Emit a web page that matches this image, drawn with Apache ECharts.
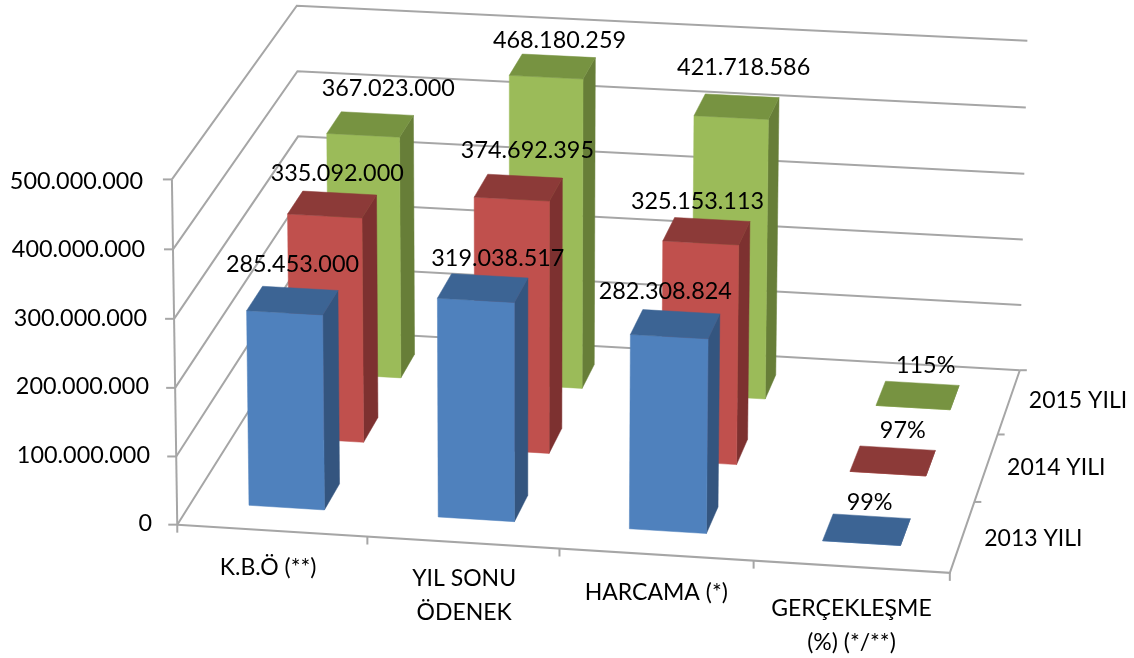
<!DOCTYPE html>
<html><head><meta charset="utf-8">
<style>html,body{margin:0;padding:0;background:#fff}#c{width:1134px;height:658px}</style>
<script src="https://cdn.jsdelivr.net/npm/echarts@6/dist/echarts.min.js"></script>
</head><body><div id="c"></div>
<script>
const categories = ['K.B.Ö (**)', 'YIL SONU\nÖDENEK', 'HARCAMA (*)', 'GERÇEKLEŞME\n(%) (*/**)'];
const years = ['2013 YILI', '2014 YILI', '2015 YILI'];
const values2013 = [285453000, 319038517, 282308824, 0.99];
const values2014 = [335092000, 374692395, 325153113, 0.97];
const values2015 = [367023000, 468180259, 421718586, 1.15];
const yTicks = [0, 100000000, 200000000, 300000000, 400000000, 500000000];

const FONT = 'Lato';
const TEXT = '#000';
const GRIDC = '#A6A6A6';
const G = {left: 178, top: 180, width: 772, height: 342};
const styles = [
  {front: '#4F81BD', side: '#34557F', top: '#3C6494'},
  {front: '#C0504D', side: '#7D3130', top: '#8C3A38'},
  {front: '#9BBB59', side: '#677E38', top: '#779341'}
];
const BAR = {x0: 0.305, x1: 0.705, z0: 0.33, z1: 0.71};
// Label placement relative to the bar's top centre, per series / category
const labelShift = [
  [[0,-36],[15,-30],[-10,-33],[3,-27]],
  [[5,-31],[9,-37],[-9,-30],[10,-30]],
  [[18,-36],[7,-26],[7,-39],[8,-30]]
];
const catLabelShift = [[-4,37],[1,53],[0,38],[0,59]];
const yearLabelShift = [[22,2],[21,0],[20,-1]];
const yLabelGap = [0,2,3,5,7,9];

// Perspective calibration: [cat, height(100M), depth] -> screen
const calib = [
  [0,0,0,178,522],[0,5,0,171,180],[4,0,0,950,575],
  [0,0,3,299,333],[0,5,3,298,4],[4,0,3,1020,367],[4,5,3,1027,42]
];
function solveH() {
  const A = [], b = [];
  calib.forEach(([X,Y,Z,u,v]) => {
    A.push([X,Y,Z,1,0,0,0,0,-u*X,-u*Y,-u*Z]); b.push(u);
    A.push([0,0,0,0,X,Y,Z,1,-v*X,-v*Y,-v*Z]); b.push(v);
  });
  const n = 11, M = [];
  for (let i=0;i<n;i++){ M.push(new Array(n+1).fill(0));
    for (let j=0;j<n;j++) for (let r=0;r<A.length;r++) M[i][j]+=A[r][i]*A[r][j];
    for (let r=0;r<A.length;r++) M[i][n]+=A[r][i]*b[r];
  }
  for (let i=0;i<n;i++){ let p=i;
    for (let r=i+1;r<n;r++) if (Math.abs(M[r][i])>Math.abs(M[p][i])) p=r;
    [M[i],M[p]]=[M[p],M[i]];
    for (let r=0;r<n;r++) if (r!==i){ const f=M[r][i]/M[i][i];
      for (let c=i;c<=n;c++) M[r][c]-=f*M[i][c]; }
  }
  return M.map((row,i)=>row[n]/row[i]);
}
const H = solveH();
function proj(X,Y,Z){
  const w = H[8]*X+H[9]*Y+H[10]*Z+1;
  return [(H[0]*X+H[1]*Y+H[2]*Z+H[3])/w,(H[4]*X+H[5]*Y+H[6]*Z+H[7])/w];
}
// Take a data point through the chart's own axes, then into the perspective.
function world(api,cat,val,dx,z){
  const p = api.coord([cat,val]);
  const bw = api.size([1,0])[0];
  const X = (p[0]-G.left)/bw - 0.5 + dx;
  const Y = (G.top+G.height-p[1])/G.height*5;
  return proj(X,Y,z);
}
const fmtNum = v => String(Math.round(v)).replace(/\B(?=(\d{3})+(?!\d))/g,'.');
const fmtVal = v => v < 10 ? Math.round(v*100)+'%' : fmtNum(v);
const lineEl = (pts,w) => ({type:'polyline',shape:{points:pts},style:{stroke:GRIDC,lineWidth:w||2,fill:null},silent:true});

function barSeries(values,s){
  const st = styles[s];
  return {
    type:'custom', coordinateSystem:'cartesian2d', z:4, silent:true,
    encode:{x:0,y:1},
    data: values.map((v,i)=>[i,v]).reverse(),
    renderItem:(params,api)=>{
      const c=api.value(0), v=api.value(1);
      const za=s+BAR.z0, zb=s+BAR.z1, xa=BAR.x0, xb=BAR.x1;
      const P=(val,dx,z)=>world(api,c,val,dx,z);
      const poly=(pts,fill)=>({type:'polygon',shape:{points:pts},style:{fill,stroke:fill,lineWidth:0.5}});
      return {type:'group',children:[
        poly([P(0,xb,za),P(0,xb,zb),P(v,xb,zb),P(v,xb,za)],st.side),
        poly([P(0,xa,za),P(0,xb,za),P(v,xb,za),P(v,xa,za)],st.front),
        poly([P(v,xa,za),P(v,xb,za),P(v,xb,zb),P(v,xa,zb)],st.top)
      ]};
    }
  };
}
function labelSeries(values,s){
  return {
    type:'custom', coordinateSystem:'cartesian2d', z:10, silent:true,
    encode:{x:0,y:1},
    data: values.map((v,i)=>[i,v]),
    renderItem:(params,api)=>{
      const c=api.value(0), v=api.value(1);
      const p=world(api,c,v,(BAR.x0+BAR.x1)/2,s+(BAR.z0+BAR.z1)/2);
      const d=labelShift[s][c];
      return {type:'text',x:p[0]+d[0],y:p[1]+d[1],
        style:{text:fmtVal(values[c]),font:'23.4px '+FONT,fill:TEXT,align:'center',verticalAlign:'middle'}};
    }
  };
}
const wallSeries = {
  type:'custom', coordinateSystem:'cartesian2d', z:1, silent:true, encode:{x:0,y:1},
  data: yTicks.map(t=>[0,t]),
  renderItem:(params,api)=>{
    const v=api.value(1);
    const a=world(api,0,v,0,0), b=world(api,0,v,0,3), e=world(api,0,v,4,3);
    return {type:'group',children:[lineEl([a,b,e]),lineEl([[a[0]-9,a[1]],a])]};
  }
};
const frameSeries = {
  type:'custom', coordinateSystem:'cartesian2d', z:2, silent:true, encode:{x:0,y:1},
  data:[[0,0]],
  renderItem:(params,api)=>{
    const ch=[];
    ch.push(lineEl([world(api,0,0,0,0),world(api,0,yTicks[5],0,0)]));
    ch.push(lineEl([world(api,0,0,0,0),world(api,0,0,4,0),world(api,0,0,4,3)]));
    for(let i=0;i<=4;i++){const p=world(api,0,0,i,0);ch.push(lineEl([p,[p[0],p[1]+8]]));}
    for(let i=1;i<=3;i++){const p=world(api,0,0,4,i);ch.push(lineEl([p,[p[0]+7,p[1]]]));}
    return {type:'group',children:ch};
  }
};
const textSeries = {
  type:'custom', coordinateSystem:'cartesian2d', z:10, silent:true, encode:{x:0,y:1},
  data:[[0,0]],
  renderItem:(params,api)=>{
    const ch=[];
    categories.forEach((t,i)=>{
      const p=world(api,0,0,i+0.5,0), d=catLabelShift[i];
      ch.push({type:'text',x:p[0]+d[0],y:p[1]+d[1],style:{text:t,font:'23px '+FONT,fill:TEXT,align:'center',verticalAlign:'middle',lineHeight:34}});
    });
    years.forEach((t,i)=>{
      const p=world(api,0,0,4,i+0.5), d=yearLabelShift[i];
      ch.push({type:'text',x:p[0]+d[0],y:p[1]+d[1],style:{text:t,font:'23px '+FONT,fill:TEXT,align:'left',verticalAlign:'middle'}});
    });
    return {type:'group',children:ch};
  }
};
const yRich = {};
yTicks.forEach((t,i)=>{ yRich['t'+i]={fontFamily:FONT,fontSize:23.4,color:TEXT,padding:[3,yLabelGap[i],0,0]}; });

const chart = echarts.init(document.getElementById('c'),null,{renderer:'canvas'});
chart.setOption({
  animation:false,
  backgroundColor:'#fff',
  grid:{left:G.left,top:G.top,width:G.width,height:G.height,containLabel:false},
  xAxis:{type:'category',data:categories,axisLine:{show:false},axisTick:{show:false},axisLabel:{show:false},splitLine:{show:false}},
  yAxis:{type:'value',min:0,max:500000000,interval:100000000,axisLine:{show:false},axisTick:{show:false},splitLine:{show:false},
    axisLabel:{margin:26,fontFamily:FONT,fontSize:23.4,color:TEXT,rich:yRich,
      formatter:v=>'{t'+yTicks.indexOf(v)+'|'+fmtNum(v)+'}'}},
  series:[
    wallSeries,frameSeries,
    barSeries(values2015,2),barSeries(values2014,1),barSeries(values2013,0),
    labelSeries(values2015,2),labelSeries(values2014,1),labelSeries(values2013,0),
    textSeries
  ]
});
</script></body></html>
